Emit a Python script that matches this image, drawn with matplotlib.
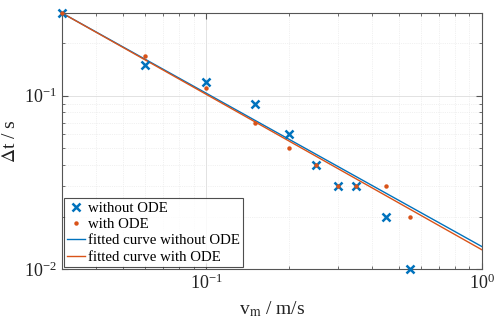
import numpy as np
import matplotlib
matplotlib.use("Agg")
import matplotlib.pyplot as plt

# measured velocities and time steps
v_m = [0.03, 0.06, 0.1, 0.15, 0.2, 0.25, 0.3, 0.35, 0.45, 0.55]
dt_without = [0.3, 0.15, 0.12, 0.09, 0.06, 0.04, 0.03, 0.03, 0.02, 0.01]
dt_with = [0.3, 0.17, 0.11, 0.07, 0.05, 0.04, 0.03, 0.03, 0.03, 0.02]

# power-law fits dt = a * v^b
fit_without = (0.01346, -0.885)
fit_with = (0.0129, -0.897)

plt.rcParams["font.family"] = ["Liberation Serif", "DejaVu Serif"]
plt.rcParams["mathtext.fontset"] = "stix"

blue, orange = "#0072BD", "#D95319"

fig = plt.figure(figsize=(4.97, 3.23), dpi=100)
ax = fig.add_axes([0.1247, 0.167, 0.8453, 0.793])

vv = np.logspace(np.log10(0.03), 0, 200)
ax.plot(v_m, dt_without, "x", color=blue, ms=6, mew=1.8, label="without ODE", clip_on=False, zorder=4)
ax.plot(v_m, dt_with, "o", color=orange, ms=3.2, mew=0, label="with ODE", clip_on=False, zorder=4)
ax.plot(vv, fit_without[0] * vv ** fit_without[1], color=blue, lw=1, label="fitted curve without ODE")
ax.plot(vv, fit_with[0] * vv ** fit_with[1], color=orange, lw=1, label="fitted curve with ODE")

ax.set_xscale("log"); ax.set_yscale("log")
ax.set_xlim(0.03, 1); ax.set_ylim(0.01, 0.3)
ax.grid(True, which="major", color="#dddddd", lw=0.6)
ax.grid(True, which="minor", color="#e4e4e4", lw=0.5, ls=":")
ax.set_axisbelow(True)
for s in ax.spines.values(): s.set_color("#555555"); s.set_linewidth(0.8)
ax.tick_params(which="both", direction="in", top=True, right=True, colors="#555555", labelcolor="#222222", labelsize=13)
ax.tick_params(which="major", length=4)
ax.tick_params(which="minor", length=2)
ax.set_xlabel(r"v$_\mathrm{m}$ / m/s", fontsize=14, color="#222222")
ax.set_ylabel(r"$\Delta$t / s", fontsize=14, color="#222222")

leg = ax.legend(loc="lower left", fontsize=10.7, frameon=True, fancybox=False, edgecolor="#222222",
                borderaxespad=0.15, handlelength=1.2, handletextpad=0.2, labelspacing=0.2, borderpad=0.2)
leg.get_frame().set_linewidth(0.8)
leg.set_zorder(5)

fig.savefig("out.png", dpi=100)
